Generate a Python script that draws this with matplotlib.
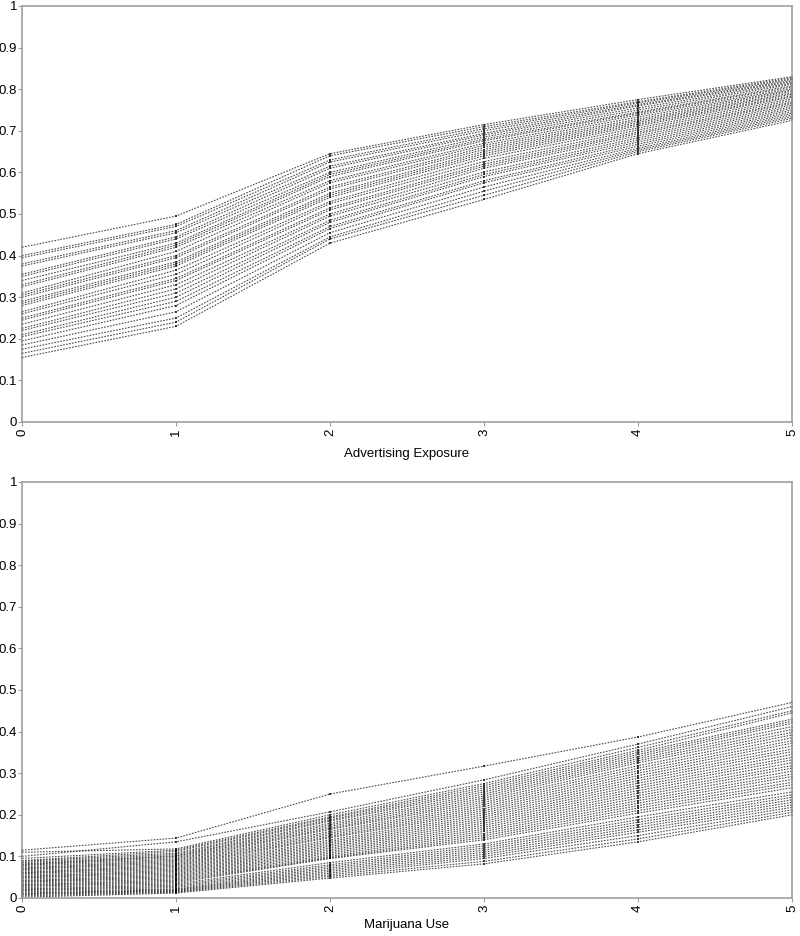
import matplotlib
matplotlib.use("Agg")
import matplotlib.pyplot as plt
import numpy as np

plt.rcParams['font.family'] = ['Liberation Sans', 'DejaVu Sans']

x_vals = [0, 1, 2, 3, 4, 5]
x_ticklabels = ["0", "1", "2", "3", "4", "5"]
y_ticks = [0, 0.1, 0.2, 0.3, 0.4, 0.5, 0.6, 0.7, 0.8, 0.9, 1]
y_ticklabels = ["0", "0.1", "0.2", "0.3", "0.4", "0.5", "0.6", "0.7", "0.8", "0.9", "1"]

# Top panel: Advertising Exposure (each index = one line)
adv_x0 = [0.420, 0.400, 0.395, 0.380, 0.375, 0.355, 0.350, 0.340, 0.330, 0.325,
          0.310, 0.305, 0.300, 0.290, 0.285, 0.280, 0.265, 0.260, 0.250, 0.245,
          0.235, 0.225, 0.220, 0.210, 0.205, 0.195, 0.185, 0.175, 0.165, 0.155]
adv_x1 = [0.495, 0.475, 0.470, 0.460, 0.455, 0.445, 0.440, 0.430, 0.425, 0.420,
          0.410, 0.400, 0.395, 0.385, 0.380, 0.375, 0.365, 0.355, 0.345, 0.340,
          0.330, 0.320, 0.310, 0.300, 0.290, 0.280, 0.265, 0.250, 0.240, 0.230]
adv_x2 = [0.645, 0.640, 0.630, 0.625, 0.615, 0.610, 0.600, 0.595, 0.590, 0.580,
          0.575, 0.565, 0.560, 0.550, 0.545, 0.540, 0.530, 0.525, 0.515, 0.510,
          0.500, 0.495, 0.485, 0.480, 0.470, 0.465, 0.455, 0.445, 0.440, 0.430]
adv_x3 = [0.715, 0.710, 0.705, 0.700, 0.694, 0.690, 0.685, 0.680, 0.676, 0.670,
          0.665, 0.660, 0.655, 0.650, 0.645, 0.640, 0.634, 0.626, 0.620, 0.615,
          0.610, 0.601, 0.595, 0.590, 0.580, 0.575, 0.565, 0.555, 0.545, 0.535]
adv_x4 = [0.775, 0.770, 0.767, 0.763, 0.760, 0.755, 0.750, 0.745, 0.742, 0.738,
          0.733, 0.728, 0.724, 0.720, 0.716, 0.712, 0.707, 0.702, 0.697, 0.693,
          0.688, 0.683, 0.678, 0.673, 0.668, 0.663, 0.658, 0.654, 0.650, 0.645]
adv_x5 = [0.830, 0.827, 0.824, 0.821, 0.818, 0.815, 0.812, 0.808, 0.805, 0.801,
          0.798, 0.795, 0.791, 0.788, 0.784, 0.781, 0.777, 0.773, 0.769, 0.766,
          0.762, 0.758, 0.754, 0.750, 0.746, 0.742, 0.738, 0.734, 0.730, 0.725]

# Bottom panel: Marijuana Use
mj_x0 = [0.115, 0.100, 0.110, 0.095, 0.090, 0.088, 0.085, 0.082, 0.080, 0.078,
         0.075, 0.072, 0.070, 0.068, 0.065, 0.062, 0.060, 0.058, 0.055, 0.052,
         0.050, 0.048, 0.045, 0.042, 0.040, 0.038, 0.035, 0.032, 0.030, 0.028,
         0.025, 0.022, 0.020, 0.018, 0.015, 0.012, 0.010, 0.008, 0.005, 0.002]
mj_x1 = [0.144, 0.135, 0.118, 0.115, 0.112, 0.108, 0.105, 0.102, 0.100, 0.097,
         0.094, 0.091, 0.088, 0.085, 0.082, 0.079, 0.076, 0.073, 0.070, 0.067,
         0.064, 0.061, 0.058, 0.055, 0.052, 0.049, 0.046, 0.043, 0.040, 0.037,
         0.034, 0.031, 0.028, 0.025, 0.022, 0.020, 0.018, 0.016, 0.014, 0.012]
mj_x2 = [0.250, 0.207, 0.200, 0.195, 0.192, 0.188, 0.185, 0.180, 0.176, 0.172,
         0.168, 0.165, 0.160, 0.156, 0.152, 0.148, 0.145, 0.140, 0.136, 0.132,
         0.128, 0.124, 0.120, 0.116, 0.112, 0.108, 0.104, 0.100, 0.097, 0.095,
         0.085, 0.080, 0.076, 0.072, 0.068, 0.064, 0.060, 0.056, 0.052, 0.048]
mj_x3 = [0.317, 0.284, 0.275, 0.270, 0.265, 0.260, 0.255, 0.250, 0.245, 0.240,
         0.235, 0.230, 0.225, 0.220, 0.215, 0.210, 0.205, 0.200, 0.195, 0.190,
         0.185, 0.180, 0.175, 0.170, 0.165, 0.160, 0.155, 0.150, 0.145, 0.140,
         0.130, 0.125, 0.120, 0.115, 0.110, 0.105, 0.100, 0.095, 0.088, 0.082]
mj_x4 = [0.387, 0.370, 0.362, 0.355, 0.350, 0.345, 0.340, 0.335, 0.330, 0.325,
         0.318, 0.312, 0.306, 0.300, 0.294, 0.288, 0.282, 0.276, 0.270, 0.264,
         0.258, 0.252, 0.246, 0.240, 0.234, 0.228, 0.222, 0.216, 0.210, 0.204,
         0.195, 0.188, 0.182, 0.176, 0.170, 0.164, 0.158, 0.150, 0.142, 0.135]
mj_x5 = [0.470, 0.460, 0.450, 0.445, 0.430, 0.425, 0.420, 0.412, 0.405, 0.398,
         0.392, 0.385, 0.378, 0.372, 0.365, 0.358, 0.352, 0.345, 0.338, 0.332,
         0.325, 0.318, 0.312, 0.305, 0.298, 0.292, 0.285, 0.278, 0.272, 0.265,
         0.255, 0.248, 0.242, 0.236, 0.230, 0.224, 0.218, 0.212, 0.206, 0.200]

panels = [
    ("Advertising Exposure", [adv_x0, adv_x1, adv_x2, adv_x3, adv_x4, adv_x5], 8),
    ("Marijuana Use", [mj_x0, mj_x1, mj_x2, mj_x3, mj_x4, mj_x5], 5),
]

fig = plt.figure(figsize=(8, 9.36), dpi=100)
W, H = 800, 936
rects = [(22, 6, 792, 422), (22, 482, 792, 898)]
spine_col = "#a0a0a0"

for (label, cols, lp), (l, t, r, b) in zip(panels, rects):
    ax = fig.add_axes([l / W, 1 - b / H, (r - l) / W, (b - t) / H])
    data = np.array(cols).T
    for row in data:
        ax.plot(x_vals, row, color="black", lw=0.8, alpha=0.7,
                linestyle=(0, (1.5, 1.2)), marker='s', markersize=1.8,
                markeredgewidth=0, markerfacecolor="black", clip_on=False)
    ax.set_xlim(0, 5)
    ax.set_ylim(0, 1)
    ax.set_xticks(x_vals)
    ax.set_xticklabels(x_ticklabels, rotation=90, fontsize=9.5)
    ax.set_yticks(y_ticks)
    ax.set_yticklabels(y_ticklabels, fontsize=9.5)
    ax.tick_params(axis='y', length=3, width=0.8, color=spine_col, pad=0.5)
    ax.tick_params(axis='x', length=3, width=0.8, color=spine_col, pad=2)
    for s in ax.spines.values():
        s.set_color(spine_col)
        s.set_linewidth(1.2)
    ax.set_xlabel(label, fontsize=9.5, labelpad=lp)

fig.savefig("out.png", dpi=100)
